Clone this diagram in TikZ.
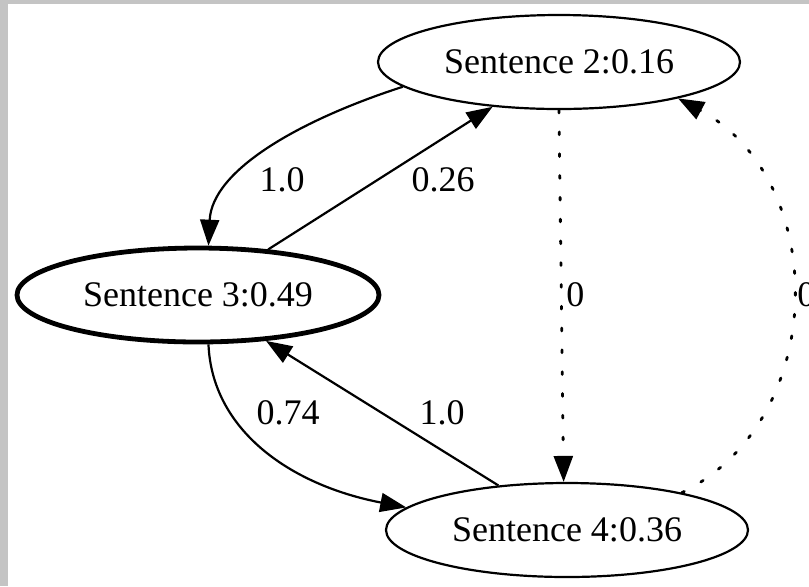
\documentclass[tikz,border=0pt]{standalone}
\usepackage{fontspec}
\setmainfont{Liberation Serif}
\usetikzlibrary{shapes.geometric,arrows.meta}
\definecolor{frame}{RGB}{196,196,196}
\tikzset{
  sent/.style={draw, ellipse, minimum width=181pt, minimum height=47pt, inner sep=0pt, line width=1.1pt, font=\fontsize{18}{21}\selectfont},
  boldsent/.style={sent, line width=2.4pt},
  edge/.style={line width=1.1pt, -{Triangle[length=13pt,width=9.5pt]}},
  dotedge/.style={edge, dash pattern=on 1.4pt off 9.5pt, line width=1.4pt, line cap=round},
  lbl/.style={font=\fontsize{18}{21}\selectfont, inner sep=0pt}
}
\begin{document}
\begin{tikzpicture}[x=0.5pt,y=-0.5pt]
\useasboundingbox (0,0) rectangle (809,586);
\clip (0,0) rectangle (809,586);
\fill[frame] (0,0) rectangle (809,586);
\fill[white] (8,4) rectangle (809,586);
\node[sent] (s2) at (559,62) {Sentence 2:0.16};
\node[boldsent] (s3) at (198,295) {Sentence 3:0.49};
\node[sent] (s4) at (567,530) {Sentence 4:0.36};
% S2 -> S3
\draw[edge] (s2.189) .. controls (300,120) and (212,170) .. (s3.78);
\node[lbl] (l1) at (282,180) {1.0};
% S3 -> S2
\draw[edge] (s3.33) -- (s2.214);
\node[lbl] (l2) at (443,180) {0.26};
% S2 -> S4 dotted
\draw[dotedge] (s2.270) -- (s4.94);
\node[lbl, anchor=west] (l3) at (566,295) {0};
% S4 -> S2 dotted
\draw[dotedge] (s4.18) .. controls (830,420) and (830,180) .. (s2.343);
\node[lbl, anchor=west] (l4) at (797,295) {0};
% S3 -> S4
\draw[edge] (s3.282) .. controls (212,430) and (290,485) .. (s4.172);
\node[lbl] (l5) at (288,413) {0.74};
% S4 -> S3
\draw[edge] (s4.147) -- (s3.326);
\node[lbl] (l6) at (442,413) {1.0};
\end{tikzpicture}
\end{document}
